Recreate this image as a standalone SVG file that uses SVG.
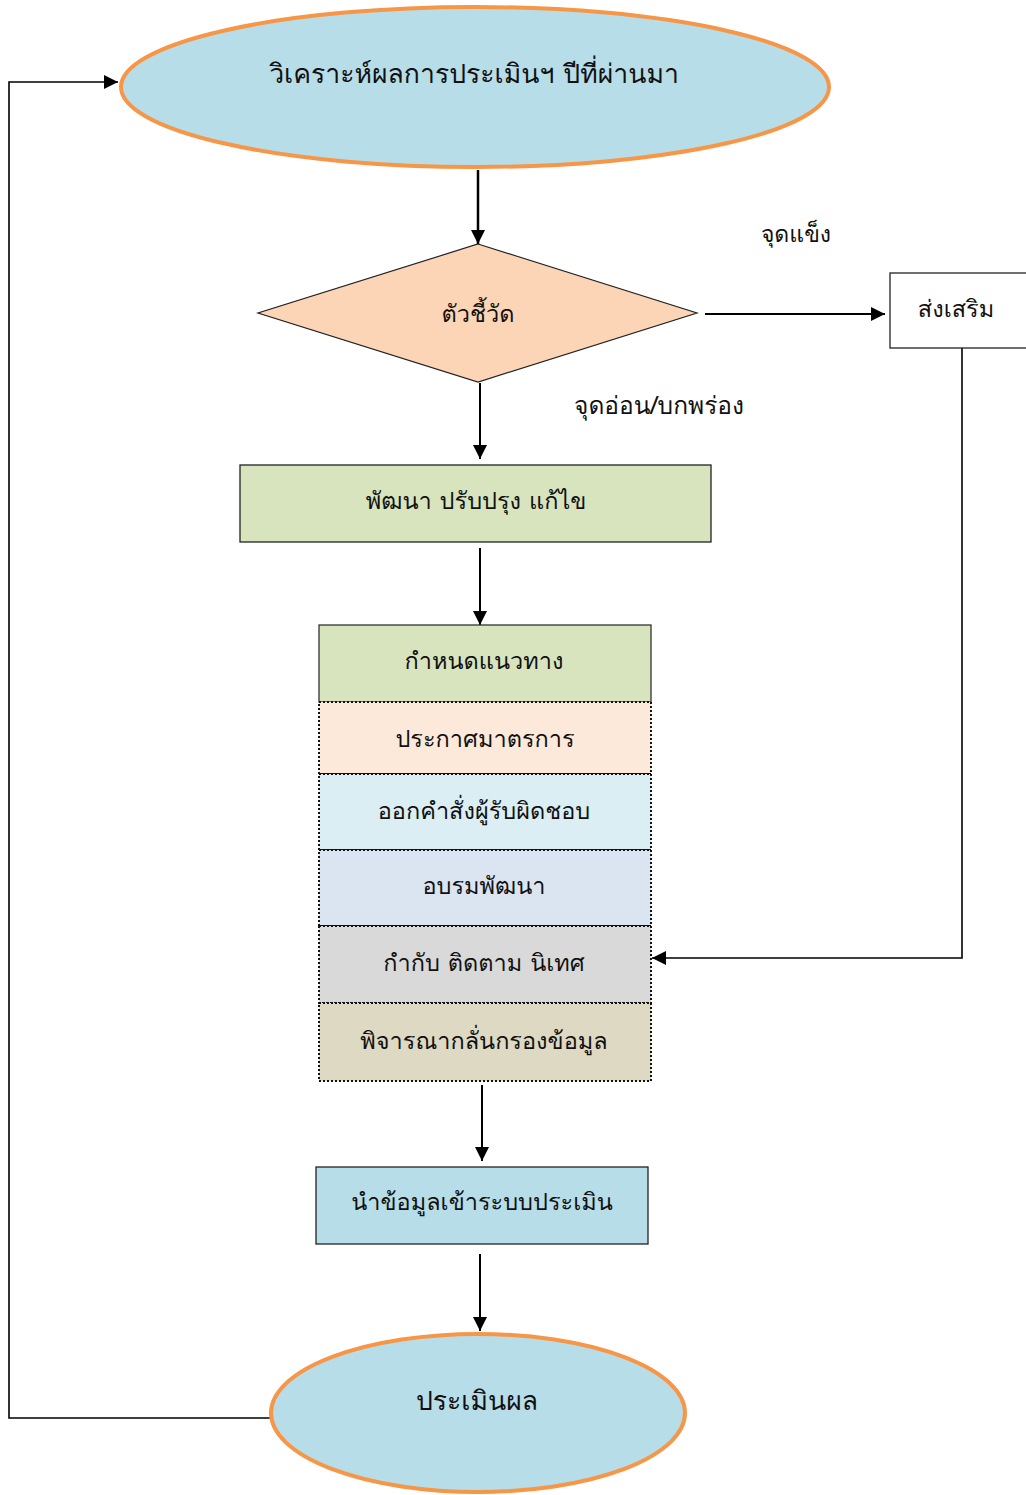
<svg xmlns="http://www.w3.org/2000/svg" width="1026" height="1495" viewBox="0 0 1026 1495">
<style>
text{font-family:"Loma","Noto Sans Thai Looped","Noto Serif Thai","Garuda","Norasi","Noto Sans","Noto Sans Thai",sans-serif;font-size:23.5px;fill:#111;text-anchor:middle;dominant-baseline:central}
.big{font-size:26.6px}
.ell{fill:#B7DDE8;stroke:#F79646;stroke-width:4}
.box{stroke:#222;stroke-width:1.3}
.dot{stroke:#111;stroke-width:2;stroke-dasharray:2 2}
.ln{stroke:#000;stroke-width:2;fill:none}
</style>
<defs>
<marker id="a" viewBox="0 0 10 10" refX="10" refY="5" markerWidth="15" markerHeight="14" orient="auto" markerUnits="userSpaceOnUse"><path d="M0,0L10,5L0,10z" fill="#000"/></marker>
</defs>
<g id="connectors">
<path class="ln" d="M478,170V244" marker-end="url(#a)" style="stroke-width:2.5"/>
<path class="ln" d="M705,314H885" marker-end="url(#a)"/>
<path class="ln" d="M480,383V459" marker-end="url(#a)"/>
<path class="ln" d="M480,548V625" marker-end="url(#a)"/>
<path class="ln" d="M962,348V958H652" marker-end="url(#a)" style="stroke-width:1.6"/>
<path class="ln" d="M482,1085V1161" marker-end="url(#a)"/>
<path class="ln" d="M480,1254V1331" marker-end="url(#a)"/>
<path class="ln" d="M270,1418H9V82H118" marker-end="url(#a)" style="stroke-width:1.6"/>
</g>
<g id="n1"><ellipse class="ell" cx="475" cy="87" rx="354" ry="80"/><text class="big" x="474" y="73">วิเคราะห์ผลการประเมินฯ ปีที่ผ่านมา</text></g>
<g id="n2"><path d="M478,244L697,313L478,382L258,313z" fill="#FBD5B5" stroke="#222" stroke-width="1.2"/><text x="478" y="313">ตัวชี้วัด</text></g>
<g id="l1"><text x="796" y="234" style="font-size:23px">จุดแข็ง</text></g>
<g id="l2"><text x="659" y="405" style="font-size:24.5px">จุดอ่อน/บกพร่อง</text></g>
<g id="n3"><rect x="890" y="273" width="140" height="75" fill="#fff" class="box"/><text x="956" y="308">ส่งเสริม</text></g>
<g id="n4"><rect class="box" x="240" y="465" width="471" height="77" fill="#D7E4BD"/><text x="476" y="500">พัฒนา ปรับปรุง แก้ไข</text></g>
<g id="n5">
<rect x="319" y="625" width="332" height="77" fill="#D7E4BD" stroke="#333" stroke-width="1.3"/>
<rect class="dot" x="319" y="702" width="332" height="72" fill="#FDE9D9"/>
<rect class="dot" x="319" y="774" width="332" height="76" fill="#DAEEF3"/>
<rect class="dot" x="319" y="850" width="332" height="76" fill="#DBE5F1"/>
<rect class="dot" x="319" y="926" width="332" height="77" fill="#D9D9D9"/>
<rect class="dot" x="319" y="1003" width="332" height="78" fill="#DDD9C3"/>
<text x="484" y="660">กำหนดแนวทาง</text>
<text x="485" y="738">ประกาศมาตรการ</text>
<text x="484" y="810">ออกคำสั่งผู้รับผิดชอบ</text>
<text x="484" y="885">อบรมพัฒนา</text>
<text x="484" y="962">กำกับ ติดตาม นิเทศ</text>
<text x="484" y="1040">พิจารณากลั่นกรองข้อมูล</text>
</g>
<g id="n6"><rect class="box" x="316" y="1167" width="332" height="77" fill="#B7DDE8"/><text x="482" y="1201">นำข้อมูลเข้าระบบประเมิน</text></g>
<g id="n7"><ellipse class="ell" cx="478" cy="1413" rx="207" ry="79"/><text class="big" x="477" y="1400">ประเมินผล</text></g>
</svg>
